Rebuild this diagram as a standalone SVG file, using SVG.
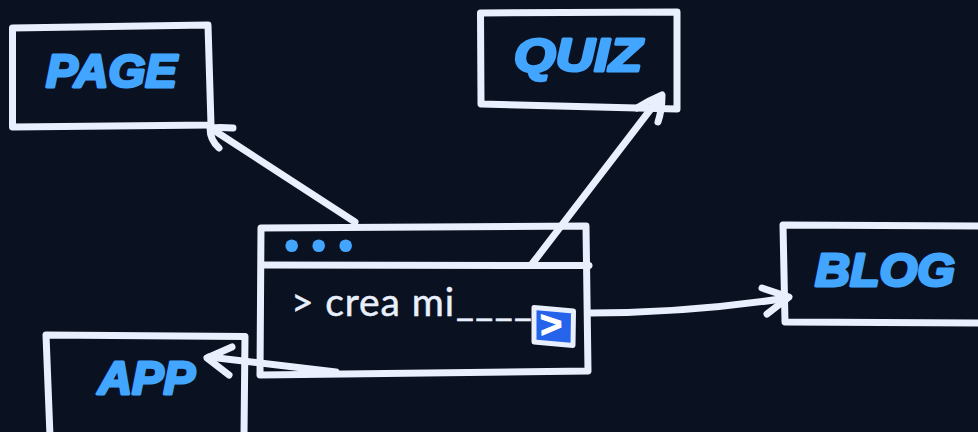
<svg xmlns="http://www.w3.org/2000/svg" width="978" height="432" viewBox="0 0 978 432">
<style>
.box{fill:none;stroke:#e9effc;stroke-width:7;stroke-linejoin:round;stroke-linecap:round}
.con{fill:none;stroke:#e9effc;stroke-width:7;stroke-linejoin:round;stroke-linecap:round}
.lab{font-family:"Liberation Sans",Arial,sans-serif;font-weight:700;font-style:italic;font-size:46px;fill:#42a5ff;stroke:#42a5ff;stroke-width:3;stroke-linejoin:round}
.dot{fill:#42a5ff}
.txt{font-family:Lato,"Liberation Sans",sans-serif;font-size:39px;fill:#e9effc;stroke:#e9effc;stroke-width:.5}
</style>
<rect width="978" height="432" fill="#0a1120"/>
<g id="node-page"><path class="box" d="M12.5 28 L208 25 L211 125 L12.5 127 Z"/><text class="lab" x="46" y="87" textLength="131" lengthAdjust="spacingAndGlyphs">PAGE</text></g>
<g id="node-quiz"><path class="box" d="M480.5 13 L677 12 L677 109 L481 104 Z"/><text class="lab" x="514" y="71" textLength="128" lengthAdjust="spacingAndGlyphs">QUIZ</text></g>
<g id="node-blog"><path class="box" d="M783 225 L990 226 L990 323 L785 322 Z"/><text class="lab" x="815" y="286" textLength="140" lengthAdjust="spacingAndGlyphs">BLOG</text></g>
<g id="node-app"><path class="box" d="M46 335 L245 336.5 L244 436 L50 436 Z"/><text class="lab" x="98" y="394" textLength="97" lengthAdjust="spacingAndGlyphs">APP</text></g>
<g id="node-window">
<path class="box" d="M261 228 L586 226 L588 371 L260 375 Z"/>
<path class="box" d="M262 265 L589 265.5"/>
<circle class="dot" cx="291.7" cy="245.7" r="6.3"/><circle class="dot" cx="318.7" cy="245.7" r="6.3"/><circle class="dot" cx="345.7" cy="245.7" r="6.3"/>
<text class="txt" x="291" y="316" textLength="163" lengthAdjust="spacing">&gt; crea mi</text>
<text class="txt" x="456" y="315" textLength="76" lengthAdjust="spacing">____</text>
<path d="M534 307.5 L573.5 311 L573 345.5 L534 342 Z" fill="#2563eb" stroke="#e9effc" stroke-width="5" stroke-linejoin="round"/>
<text x="540" y="337" font-family="Liberation Sans, sans-serif" font-weight="700" font-size="38" fill="#fff" stroke="#fff" stroke-width="1" transform="rotate(-2 554 325)">&gt;</text>
</g>
<g id="connectors">
<path class="con" d="M355 222 L212 129"/><path class="con" d="M233 128 Q220 127 210 128 Q210 140 219 148"/>
<path class="con" d="M532 264 L660 97"/><path class="con" d="M637 108 Q650 100 662 95 Q662 110 658 122"/>
<path class="con" d="M590 313 Q690 313 787 298"/><path class="con" d="M762 288 L789 297 L767 314"/>
<path class="con" d="M336 372 L209 357"/><path class="con" d="M232 347 L207 358 L229 375"/>
</g>
</svg>
